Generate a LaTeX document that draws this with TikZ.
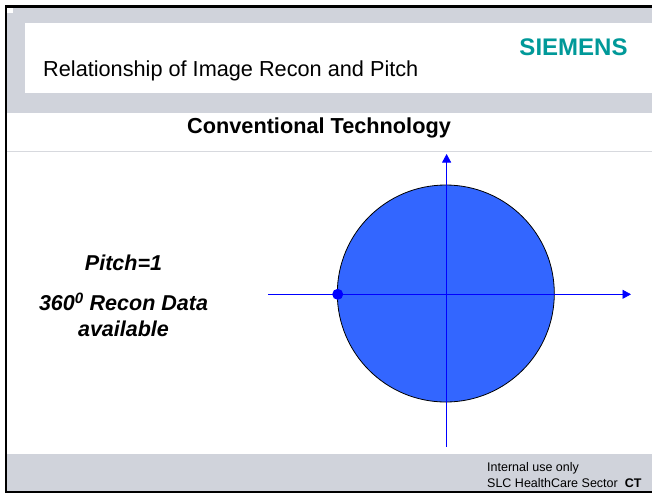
\documentclass[tikz,border=0pt]{standalone}
\usepackage{fontspec}
\setmainfont{Liberation Sans}
\definecolor{bandgray}{RGB}{208, 211, 219}
\definecolor{rulegray}{RGB}{215, 217, 222}
\definecolor{discblue}{RGB}{51, 102, 255}
\definecolor{axisblue}{RGB}{0, 0, 255}
\definecolor{logoteal}{RGB}{0, 153, 153}
\usetikzlibrary{arrows.meta}
\tikzset{
  axisline/.style={draw=axisblue, line width=0.8pt, -{Triangle[length=8.5pt, width=9pt]}},
  sidetext/.style={font=\fontsize{21.5}{26}\selectfont\bfseries\itshape, align=center},
}

\begin{document}
\begin{tikzpicture}[x=1pt, y=-1pt]
  \useasboundingbox (0,0) rectangle (652,493);
  \fill[white] (0,0) rectangle (652,493);
  \fill[bandgray] (6,7) rectangle (652,113);
  \fill[white] (25,23) rectangle (652,93);
  \fill[bandgray] (6,454) rectangle (652,491);
  \fill[white] (7,8) rectangle (13,13);
  \fill[black] (5,5) rectangle (7,493);
  \fill[black] (5,5) rectangle (652,7.5);
  \fill[black] (5,490.5) rectangle (652,493);
  \draw[rulegray, line width=0.8pt] (7,151) -- (652,151);
  \node[anchor=west, inner sep=0pt, font=\fontsize{21.7}{26}\selectfont] (slidetitle) at (43,70.5) {Relationship of Image Recon and Pitch};
  \node[inner sep=0pt, text=logoteal, font=\fontsize{24}{28}\selectfont\bfseries] (logo) at (573.5,47) {SIEMENS};
  \node[inner sep=0pt, font=\fontsize{21.7}{26}\selectfont\bfseries] (heading) at (319,128) {Conventional Technology};
  \node[circle, draw=black, line width=0.8pt, fill=discblue, minimum size=217pt, inner sep=0pt] (disc) at (445.8,293.5) {};
  \coordinate (xstart) at (268,294.3);
  \coordinate (xend) at (631,294.3);
  \coordinate (ystart) at (446.6,446.7);
  \coordinate (yend) at (446.6,154);
  \draw[axisline] (xstart) -- (xend);
  \draw[axisline] (ystart) -- (yend);
  \node[circle, fill=axisblue, minimum size=11pt, inner sep=0pt] (startdot) at (337.7,294.3) {};
  \node[sidetext] (pitchtext) at (123.5,263) {Pitch=1};
  \node[sidetext] (recontext) at (123.5,315) {360\textsuperscript{0} Recon Data\\available};
  \node[anchor=west, inner sep=0pt, align=left, font=\fontsize{12.5}{16}\selectfont] (footnote) at (487,475.5) {Internal use only\\SLC HealthCare Sector\ \ \textbf{CT}};
\end{tikzpicture}
\end{document}
